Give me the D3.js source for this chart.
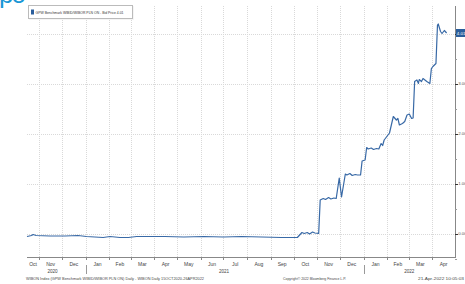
<!DOCTYPE html>
<html>
<head>
<meta charset="utf-8">
<script src="https://cdn.jsdelivr.net/npm/d3@7"></script>
<style>
  body { margin: 0; background: #fff; }
  svg { display: block; font-family: "Liberation Sans", Arial, sans-serif; }
</style>
</head>
<body>
<svg id="chart" width="465" height="284"></svg>
<script>
// WIBOR O/N, daily bid price
const dates = [
  "2020-10-16", "2020-10-22", "2020-10-24", "2020-10-28", "2020-11-15", "2020-12-05",
  "2020-12-22", "2021-01-02", "2021-01-13", "2021-01-24", "2021-02-02", "2021-02-15",
  "2021-02-26", "2021-03-09", "2021-03-26", "2021-04-15", "2021-05-10", "2021-06-05",
  "2021-07-01", "2021-07-25", "2021-08-20", "2021-09-15", "2021-10-06", "2021-10-12",
  "2021-10-15", "2021-10-19", "2021-10-22", "2021-10-26", "2021-10-29", "2021-11-03",
  "2021-11-05", "2021-11-09", "2021-11-12", "2021-11-16", "2021-11-19", "2021-11-23",
  "2021-11-26", "2021-11-30", "2021-12-03", "2021-12-08", "2021-12-10", "2021-12-14",
  "2021-12-17", "2021-12-21", "2021-12-24", "2021-12-28", "2021-12-30", "2022-01-03",
  "2022-01-05", "2022-01-07", "2022-01-11", "2022-01-14", "2022-01-18", "2022-01-21",
  "2022-01-24", "2022-01-26", "2022-01-28", "2022-02-04", "2022-02-09", "2022-02-13",
  "2022-02-15", "2022-02-17", "2022-02-21", "2022-02-24", "2022-02-27", "2022-03-02",
  "2022-03-05", "2022-03-07", "2022-03-09", "2022-03-12", "2022-03-14", "2022-03-15",
  "2022-03-18", "2022-03-20", "2022-03-25", "2022-03-29", "2022-03-31", "2022-04-02",
  "2022-04-04", "2022-04-06", "2022-04-08", "2022-04-09", "2022-04-12", "2022-04-14",
  "2022-04-17", "2022-04-20"
];
const values = [
  -0.06, -0.04, -0.02, -0.04, -0.05, -0.05,
  -0.04, -0.06, -0.07, -0.08, -0.06, -0.08,
  -0.08, -0.06, -0.06, -0.06, -0.07, -0.06,
  -0.07, -0.06, -0.07, -0.08, -0.08, 0.02,
  0.00, 0.02, -0.01, 0.03, 0.01, 0.00,
  0.67, 0.70, 0.68, 0.72, 0.69, 0.71,
  0.70, 1.11, 0.73, 1.19, 1.17, 1.20,
  1.16, 1.18, 1.17, 1.17, 1.45, 1.47,
  1.72, 1.69, 1.71, 1.68, 1.70, 1.69,
  1.80, 1.76, 1.87, 2.01, 2.34, 2.27,
  2.30, 2.17, 2.20, 2.24, 2.37, 2.39,
  2.30, 2.31, 3.04, 3.07, 3.00, 3.08,
  3.04, 3.10, 3.04, 3.00, 3.30, 3.34,
  3.37, 3.40, 4.17, 4.19, 4.04, 4.00,
  4.06, 4.01
];
const yTicks = [0, 1, 2, 3, 4];
const legendLabel = "GPW Benchmark WIBID/WIBOR PLN ON - Bid Price";
const footerLeft = "WIBON Index (GPW Benchmark WIBID/WIBOR PLN ON) Daily - WIBON Daily 15OCT2020-26APR2022";
const footerMid = "Copyright\u00a9 2022 Bloomberg Finance L.P.";
const footerRight = "21-Apr-2022 10:05:03";

const parse = d3.timeParse("%Y-%m-%d");
const data = dates.map((d, i) => ({ date: parse(d), value: values[i] }));

const svg = d3.select("#chart");
const plotL = 27, plotR = 455, plotT = 6, plotB = 257;
const start = parse("2020-10-16"), end = parse("2022-05-01");

const x = d3.scaleTime().domain([start, end]).range([plotL, plotR]);
const y = d3.scaleLinear().domain([0, 4]).range([233.5, 33.5]);

// page heading cut off by the top edge: only the descenders show
svg.append("text")
  .attr("x", -1).attr("y", 3)
  .attr("font-size", 26)
  .attr("letter-spacing", -2)
  .attr("fill", "#1a96d5")
  .text("po");

// grid
const months = d3.timeMonth.range(d3.timeMonth.ceil(start), end);
svg.append("g").selectAll("line")
  .data(months)
  .join("line")
  .attr("x1", (d) => Math.round(x(d)) + 0.5)
  .attr("x2", (d) => Math.round(x(d)) + 0.5)
  .attr("y1", plotT).attr("y2", plotB)
  .attr("stroke", "#d9d9d9")
  .attr("stroke-dasharray", "1,1");

svg.append("g").selectAll("line")
  .data(yTicks)
  .join("line")
  .attr("x1", plotL).attr("x2", plotR)
  .attr("y1", (d) => Math.round(y(d)) + 0.5)
  .attr("y2", (d) => Math.round(y(d)) + 0.5)
  .attr("stroke", "#d9d9d9")
  .attr("stroke-dasharray", "1,1");

// bottom axis
svg.append("line")
  .attr("x1", plotL).attr("x2", plotR)
  .attr("y1", plotB + 0.5).attr("y2", plotB + 0.5)
  .attr("stroke", "#888");
svg.append("g").selectAll("line")
  .data(months)
  .join("line")
  .attr("x1", (d) => Math.round(x(d)) + 0.5)
  .attr("x2", (d) => Math.round(x(d)) + 0.5)
  .attr("y1", plotB).attr("y2", plotB + 3)
  .attr("stroke", "#888");

// month labels, centred in the visible part of each month
const monthSpans = d3.timeMonth.range(d3.timeMonth.floor(start), end).map((m) => {
  const a = m < start ? start : m;
  const next = d3.timeMonth.offset(m, 1);
  const b = next > end ? end : next;
  return { month: m, cx: (x(a) + x(b)) / 2 };
});
svg.append("g").selectAll("text")
  .data(monthSpans)
  .join("text")
  .attr("x", (d) => d.cx).attr("y", 265.5)
  .attr("text-anchor", "middle")
  .attr("font-size", 5).attr("fill", "#444")
  .text((d) => d3.timeFormat("%b")(d.month));

// year labels and separators
const years = d3.groups(monthSpans, (d) => d.month.getFullYear());
svg.append("g").selectAll("text")
  .data(years)
  .join("text")
  .attr("x", (d) => d3.mean(d[1], (v) => v.cx)).attr("y", 272.5)
  .attr("text-anchor", "middle")
  .attr("font-size", 4.6).attr("fill", "#444")
  .text((d) => d[0]);
svg.append("g").selectAll("line")
  .data(d3.timeYear.range(d3.timeYear.ceil(start), end))
  .join("line")
  .attr("x1", (d) => Math.round(x(d)) + 0.5)
  .attr("x2", (d) => Math.round(x(d)) + 0.5)
  .attr("y1", 265).attr("y2", 274)
  .attr("stroke", "#999");

// right axis
svg.append("line")
  .attr("x1", plotR + 0.5).attr("x2", plotR + 0.5)
  .attr("y1", plotT).attr("y2", plotB + 1)
  .attr("stroke", "#888");
svg.append("g").selectAll("line")
  .data(d3.range(-0.5, 4.5, 0.5))
  .join("line")
  .attr("x1", plotR).attr("x2", (d) => plotR + (d % 1 === 0 ? 3 : 2))
  .attr("y1", (d) => Math.round(y(d)) + 0.5)
  .attr("y2", (d) => Math.round(y(d)) + 0.5)
  .attr("stroke", (d) => (d % 1 === 0 ? "#333" : "#999"));
svg.append("g").selectAll("text")
  .data(yTicks.slice(0, 4))
  .join("text")
  .attr("x", plotR + 3.2).attr("y", (d) => y(d) + 1.7)
  .attr("font-size", 4.4).attr("fill", "#555")
  .text(d3.format(".2f"));

// line
svg.append("path")
  .datum(data)
  .attr("d", d3.line().x((d) => x(d.date)).y((d) => y(d.value)))
  .attr("fill", "none")
  .attr("stroke", "#3869a6")
  .attr("stroke-width", 1.2)
  .attr("stroke-linejoin", "round");

// last value box
const last = data[data.length - 1];
svg.append("rect")
  .attr("x", plotR + 1).attr("y", y(last.value) - 4)
  .attr("width", 10).attr("height", 8)
  .attr("fill", "#2b5e9c");
svg.append("text")
  .attr("x", plotR + 1.8).attr("y", y(last.value) + 1.7)
  .attr("font-size", 4.4).attr("fill", "#fff")
  .text(d3.format(".2f")(last.value));

// legend
svg.append("rect")
  .attr("x", 29).attr("y", 6).attr("width", 105).attr("height", 14)
  .attr("fill", "#eee").attr("opacity", 0.6);
svg.append("rect")
  .attr("x", 28.5).attr("y", 5.5).attr("width", 104).attr("height", 13)
  .attr("fill", "#fff").attr("stroke", "#bbb");
svg.append("rect")
  .attr("x", 31).attr("y", 9.5).attr("width", 3).attr("height", 5)
  .attr("fill", "#2b5e9c");
svg.append("text")
  .attr("x", 35.5).attr("y", 13.6)
  .attr("font-size", 4).attr("fill", "#333")
  .attr("textLength", 88).attr("lengthAdjust", "spacingAndGlyphs")
  .text(`${legendLabel} ${d3.format(".2f")(last.value)}`);

// footer
svg.append("text")
  .attr("x", 26).attr("y", 280)
  .attr("font-size", 4.3).attr("fill", "#444")
  .attr("textLength", 178).attr("lengthAdjust", "spacingAndGlyphs")
  .text(footerLeft);
svg.append("text")
  .attr("x", 283).attr("y", 280)
  .attr("font-size", 4.3).attr("fill", "#444")
  .attr("textLength", 63).attr("lengthAdjust", "spacingAndGlyphs")
  .text(footerMid);
svg.append("text")
  .attr("x", 418).attr("y", 280)
  .attr("font-size", 4.3).attr("fill", "#444")
  .attr("textLength", 46).attr("lengthAdjust", "spacingAndGlyphs")
  .text(footerRight);
</script>
</body>
</html>
